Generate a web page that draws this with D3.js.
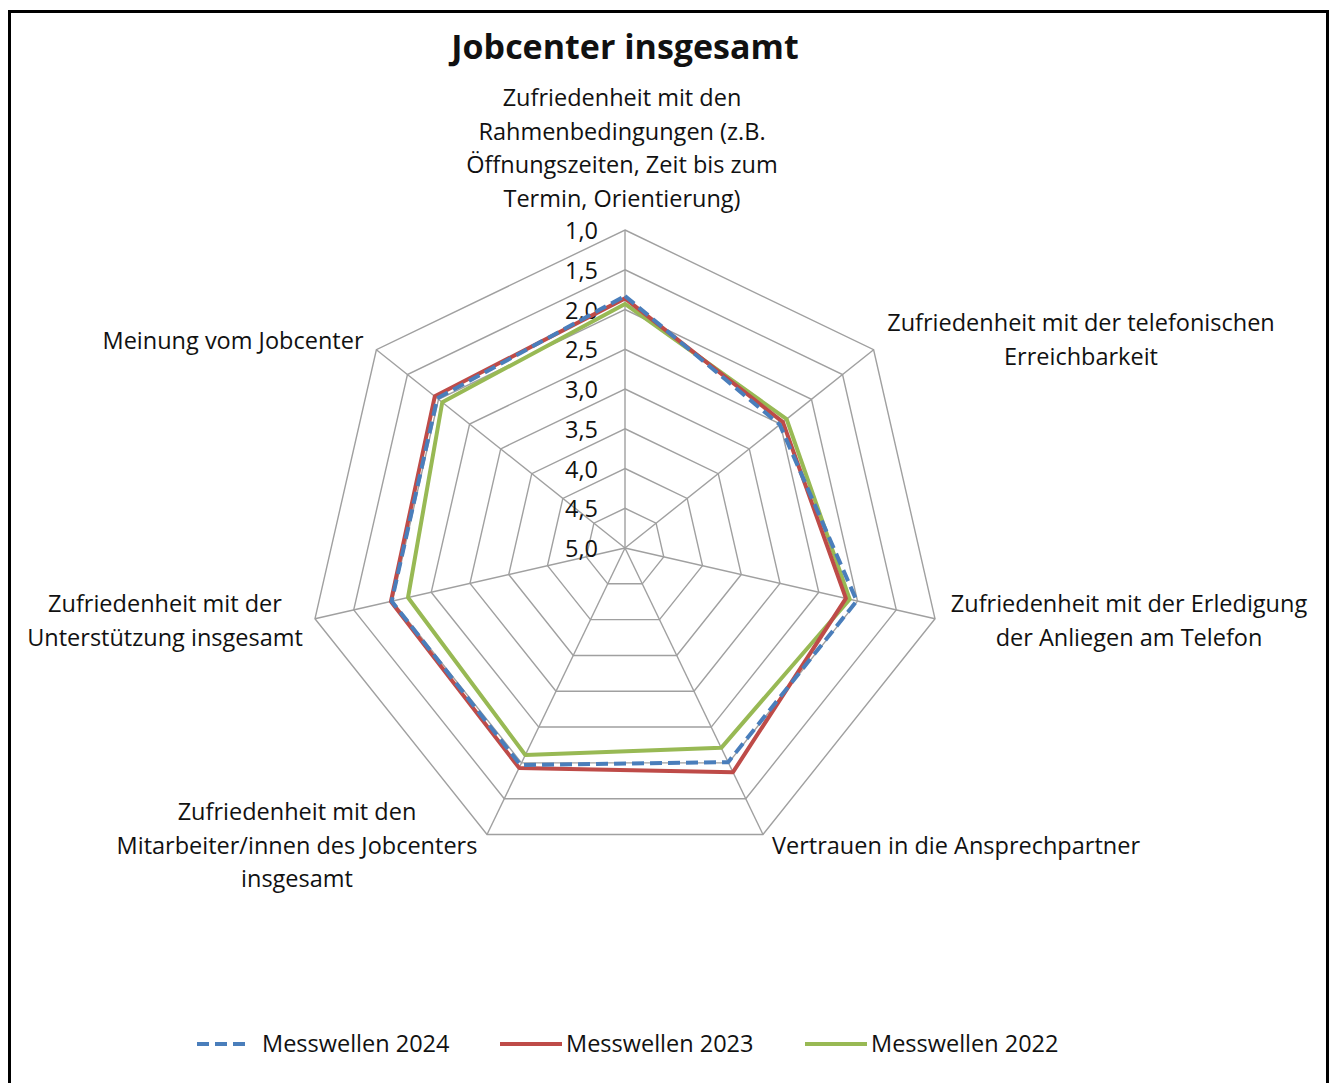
<!DOCTYPE html>
<html>
<head>
<meta charset="utf-8">
<script src="https://cdn.jsdelivr.net/npm/d3@7"></script>
<style>
  body { margin: 0; background: #fff; }
  text { font-family: "Open Sans", sans-serif; fill: #111; }
</style>
</head>
<body>
<div id="chart"></div>
<script>
// axis labels (clockwise from top), lines split by "|"
var categories = [
    "Zufriedenheit mit den|Rahmenbedingungen (z.B.|Öffnungszeiten, Zeit bis zum|Termin, Orientierung)",
    "Zufriedenheit mit der telefonischen|Erreichbarkeit",
    "Zufriedenheit mit der Erledigung|der Anliegen am Telefon",
    "Vertrauen in die Ansprechpartner",
    "Zufriedenheit mit den|Mitarbeiter/innen des Jobcenters|insgesamt",
    "Zufriedenheit mit der|Unterstützung insgesamt",
    "Meinung vom Jobcenter"
];

var seriesNames = ["Messwellen 2024", "Messwellen 2023", "Messwellen 2022"];
var values2024 = [1.83, 2.51, 2.01, 2.01, 1.97, 1.99, 1.98];
var values2023 = [1.86, 2.46, 2.15, 1.87, 1.93, 1.98, 1.94];
var values2022 = [1.93, 2.40, 2.10, 2.21, 2.11, 2.20, 2.06];
var tickValues = [1.0, 1.5, 2.0, 2.5, 3.0, 3.5, 4.0, 4.5, 5.0];

var seriesColors = ["#4a7ebb", "#be4b48", "#98b954"];

var width = 1332, height = 1083;
var cx = 625, cy = 548, R = 318;
var fs = "23.5px";

var svg = d3.select("#chart").append("svg")
    .attr("width", width)
    .attr("height", height);

svg.append("rect")
    .attr("x", 9.5).attr("y", 11.5)
    .attr("width", 1318).attr("height", 1090)
    .attr("fill", "none")
    .attr("stroke", "#000")
    .attr("stroke-width", 3);

svg.append("text")
    .attr("x", 625).attr("y", 59)
    .attr("text-anchor", "middle")
    .style("font-size", "34px")
    .style("font-weight", "bold")
    .text("Jobcenter insgesamt");

// reversed scale: 5 in the centre, 1 on the outside
var r = d3.scaleLinear().domain([5, 1]).range([0, R]);
var n = categories.length;
var angle = d3.scaleLinear().domain([0, n]).range([0, 2 * Math.PI]);

function pt(i, v) {
    var a = angle(i);
    return [cx + r(v) * Math.sin(a), cy - r(v) * Math.cos(a)];
}

var g = svg.append("g");

// grid rings
tickValues.forEach(function(t) {
    if (t === 5) return;
    var pts = d3.range(n).map(function(i) { return pt(i, t); });
    g.append("polygon")
        .attr("points", pts.map(function(p) { return p.join(","); }).join(" "))
        .attr("fill", "none")
        .attr("stroke", "#a0a0a0")
        .attr("stroke-width", 1.4);
});

// spokes
d3.range(n).forEach(function(i) {
    var p = pt(i, 1);
    g.append("line")
        .attr("x1", cx).attr("y1", cy)
        .attr("x2", p[0]).attr("y2", p[1])
        .attr("stroke", "#a0a0a0")
        .attr("stroke-width", 1.4);
});

// tick labels
tickValues.forEach(function(t) {
    g.append("text")
        .attr("x", 598)
        .attr("y", cy - r(t) + 9)
        .attr("text-anchor", "end")
        .style("font-size", fs)
        .text(d3.format(".1f")(t).replace(".", ","));
});

// category labels
var labelPos = [
    {x: 622, y: 106, anchor: "middle"},
    {x: 1081, y: 331, anchor: "middle"},
    {x: 1129, y: 612, anchor: "middle"},
    {x: 956, y: 854, anchor: "middle"},
    {x: 297, y: 820, anchor: "middle"},
    {x: 165, y: 612, anchor: "middle"},
    {x: 233, y: 349, anchor: "middle"}
];
var lineH = 33.5;

categories.forEach(function(c, i) {
    var lines = c.split("|");
    var t = g.append("text")
        .attr("text-anchor", labelPos[i].anchor)
        .style("font-size", fs);
    lines.forEach(function(l, li) {
        t.append("tspan")
            .attr("x", labelPos[i].x)
            .attr("y", labelPos[i].y + li * lineH)
            .text(l);
    });
});

// series lines
var line = d3.line().curve(d3.curveLinearClosed);
var allSeries = [values2024, values2023, values2022];
var drawOrder = [2, 1, 0];

drawOrder.forEach(function(s) {
    var pts = allSeries[s].map(function(v, i) { return pt(i, v); });
    g.append("path")
        .attr("d", line(pts))
        .attr("fill", "none")
        .attr("stroke", seriesColors[s])
        .attr("stroke-width", 4)
        .attr("stroke-linejoin", "round")
        .attr("stroke-dasharray", s === 0 ? "12,6" : null);
});

// legend
var legendX = [197, 500, 805];
var legend = svg.append("g");
seriesNames.forEach(function(name, i) {
    legend.append("line")
        .attr("x1", legendX[i]).attr("y1", 1044)
        .attr("x2", legendX[i] + (i === 0 ? 54 : 62)).attr("y2", 1044)
        .attr("stroke", seriesColors[i])
        .attr("stroke-width", 4)
        .attr("stroke-dasharray", i === 0 ? "12,6" : null);
    legend.append("text")
        .attr("x", legendX[i] + (i === 0 ? 65 : 66))
        .attr("y", 1052)
        .style("font-size", fs)
        .text(name);
});
</script>
</body>
</html>
